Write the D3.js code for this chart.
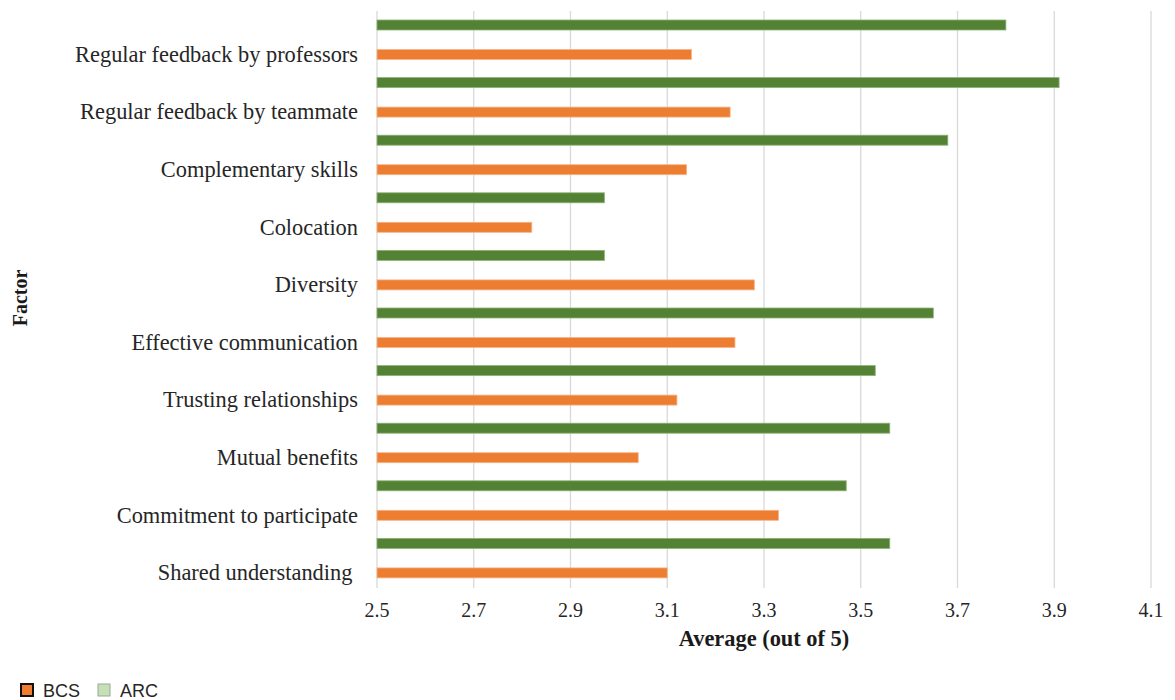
<!DOCTYPE html>
<html>
<head>
<meta charset="utf-8">
<script src="https://cdn.jsdelivr.net/npm/d3@7"></script>
<style>
  html, body { margin: 0; padding: 0; background: #ffffff; }
  svg { display: block; }
  .cat-label, .tick-label { font-family: "Liberation Serif", "Times New Roman", serif; fill: #262626; }
  .cat-label { white-space: pre; }
  .axis-title { font-family: "Liberation Serif", "Times New Roman", serif; font-weight: bold; fill: #1a1a1a; }
  .legend-text { font-family: "Liberation Sans", Arial, sans-serif; fill: #262626; }
</style>
</head>
<body>
<script>
// Factors, listed top to bottom
const factors = [
  "Regular feedback by professors",
  "Regular feedback by teammate",
  "Complementary skills",
  "Colocation",
  "Diversity",
  "Effective communication",
  "Trusting relationships",
  "Mutual benefits",
  "Commitment to participate",
  "Shared understanding "
];

// Average score (out of 5) per factor
const arcValues = [3.80, 3.91, 3.68, 2.97, 2.97, 3.65, 3.53, 3.56, 3.47, 3.56];
const bcsValues = [3.15, 3.23, 3.14, 2.82, 3.28, 3.24, 3.12, 3.04, 3.33, 3.10];

const seriesNames = ["ARC", "BCS"];
const legendNames = ["BCS", "ARC"];
const xTicks = [2.5, 2.7, 2.9, 3.1, 3.3, 3.5, 3.7, 3.9, 4.1];

const W = 1175, H = 700;
const colors = { ARC: "#548235", BCS: "#ED7D31" };
const strokes = { ARC: "#8fb177", BCS: "#f6b48a" };
const legendFill = { BCS: "#ED7D31", ARC: "#C5E0B4" };
const legendStroke = { BCS: "#111111", ARC: "#9aa894" };

const svg = d3.select("body").append("svg")
  .attr("width", W).attr("height", H);

const x = d3.scaleLinear().domain([2.5, 4.1]).range([377, 1151]);
const y = d3.scaleBand().domain(factors).range([11, 587]);
const sub = d3.scaleBand().domain(seriesNames).range([9, 48.5]).paddingInner(19.5 / 29.5);

// Vertical gridlines
svg.append("g").selectAll("line")
  .data(xTicks)
  .join("line")
  .attr("x1", d => x(d)).attr("x2", d => x(d))
  .attr("y1", 11).attr("y2", 588)
  .attr("stroke", "#d9d9d9")
  .attr("stroke-width", 1.3);

// Bars
const rows = factors.map((f, i) => ({ factor: f, ARC: arcValues[i], BCS: bcsValues[i] }));
const groups = svg.append("g").selectAll("g")
  .data(rows)
  .join("g")
  .attr("transform", d => `translate(0,${y(d.factor)})`);

groups.selectAll("rect")
  .data(d => seriesNames.map(s => ({ s, v: d[s] })))
  .join("rect")
  .attr("x", x(2.5))
  .attr("y", d => sub(d.s))
  .attr("width", d => x(d.v) - x(2.5))
  .attr("height", sub.bandwidth())
  .attr("fill", d => colors[d.s])
  .attr("stroke", d => strokes[d.s])
  .attr("stroke-width", 0.8);

// Category labels
svg.append("g").selectAll("text")
  .data(factors)
  .join("text")
  .attr("class", "cat-label")
  .attr("x", 358)
  .attr("y", d => y(d) + sub("BCS") + sub.bandwidth() / 2)
  .attr("dy", "0.33em")
  .attr("text-anchor", "end")
  .attr("font-size", 22.4)
  .text(d => d);

// Tick labels
svg.append("g").selectAll("text")
  .data(xTicks)
  .join("text")
  .attr("class", "tick-label")
  .attr("x", d => x(d))
  .attr("y", 610)
  .attr("dy", "0.35em")
  .attr("text-anchor", "middle")
  .attr("font-size", 20)
  .text(d => d3.format(".1f")(d));

// Axis titles
svg.append("text")
  .attr("class", "axis-title")
  .attr("x", (x(2.5) + x(4.1)) / 2)
  .attr("y", 638)
  .attr("dy", "0.35em")
  .attr("text-anchor", "middle")
  .attr("font-size", 22.4)
  .text("Average (out of 5)");

svg.append("text")
  .attr("class", "axis-title")
  .attr("transform", "translate(20,298) rotate(-90)")
  .attr("dy", "0.35em")
  .attr("text-anchor", "middle")
  .attr("font-size", 20)
  .text("Factor");

// Legend
const legend = svg.append("g").attr("transform", "translate(21,684)");
const lg = legend.selectAll("g")
  .data(legendNames)
  .join("g")
  .attr("transform", (d, i) => `translate(${i * 77},0)`);
lg.append("rect")
  .attr("width", 12).attr("height", 12)
  .attr("fill", d => legendFill[d])
  .attr("stroke", d => legendStroke[d])
  .attr("stroke-width", d => d === "BCS" ? 2 : 1);
lg.append("text")
  .attr("class", "legend-text")
  .attr("x", 22)
  .attr("y", 6.5)
  .attr("dy", "0.35em")
  .attr("font-size", 18)
  .text(d => d);
</script>
</body>
</html>
